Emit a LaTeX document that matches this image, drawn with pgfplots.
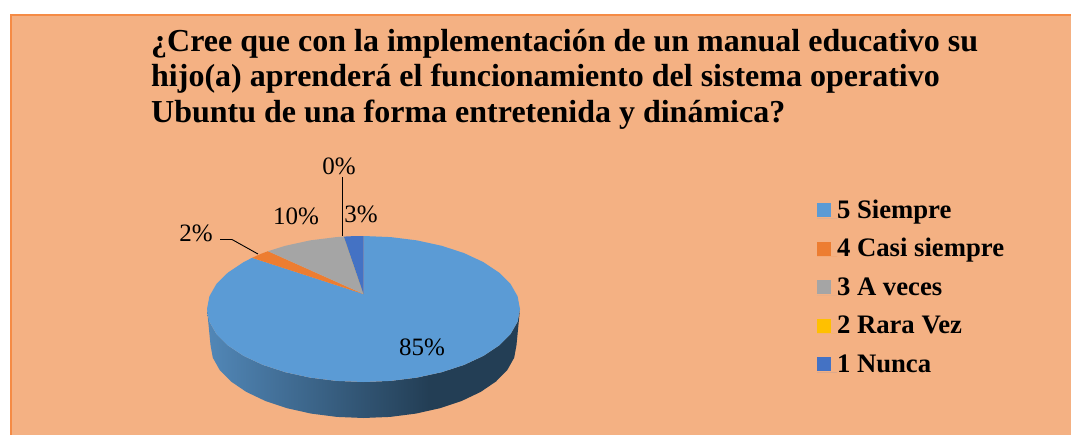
\documentclass[border=0pt]{standalone}
\usepackage{pgfplots}
\pgfplotsset{compat=1.18}
\usepackage{fontspec}
\setmainfont{Liberation Serif}
\pgfdeclarehorizontalshading{pieside}{100bp}{
  rgb(0bp)=(0.32,0.53,0.72);
  rgb(25bp)=(0.32,0.53,0.72);
  rgb(60.5bp)=(0.137,0.243,0.333);
  rgb(100bp)=(0.137,0.243,0.333)}
\definecolor{bgc}{HTML}{F4B183}
\definecolor{edge}{HTML}{F58B45}
\definecolor{c5}{HTML}{5B9BD5}
\definecolor{c4}{HTML}{ED7D31}
\definecolor{c3}{HTML}{A5A5A5}
\definecolor{c2}{HTML}{FFC000}
\definecolor{c1}{HTML}{4472C4}
\begin{document}
\begin{tikzpicture}
\useasboundingbox (0,0) rectangle (1071pt,434pt);
\begin{axis}[
  scale only axis, width=1071pt, height=434pt,
  xmin=0, xmax=1071, ymin=0, ymax=434, y dir=reverse,
  hide axis, clip=true,
  legend cell align=left,
  legend image code/.code={\fill[#1,draw=none] (0pt,1pt) rectangle (14pt,15pt);\path (0pt,0pt) -- (20pt,0pt);},
  legend style={draw=none, fill=none, at={(axis cs:817,201)}, anchor=north west,
    font=\fontsize{26.7}{28}\selectfont\bfseries, row sep=15.6pt,
    inner sep=0pt, outer sep=0pt,
    nodes={inner sep=0pt, outer sep=0pt, anchor=base west, text height=17pt, text depth=6pt}},
]
% background panel
\addplot[fill=bgc, draw=edge, line width=2pt, forget plot] coordinates
  {(11,440) (11,15) (1078,15) (1078,440) (11,440)};
% pie side
\addplot[shading=pieside, draw=none, forget plot] coordinates {
 (207,309) (209.4,321.7) (216.4,334.0) (228.0,345.5) (243.6,355.9) (262.9,364.9)
 (285.25,372.2) (310.0,377.6) (336.3,380.9) (363.5,382) (390.7,380.9) (417.0,377.6)
 (441.75,372.2) (464.1,364.9) (483.4,355.9) (499.0,345.5) (510.6,334.0) (517.6,321.7) (520,309)
 (516.5,345) (514.2,357.7) (507.3,370) (496,381.5) (480.7,391.9) (461.8,400.9) (440,408.2)
 (415.8,413.6) (390.1,416.9) (363.5,418) (336.9,416.9) (311.2,413.6) (287,408.2) (265.2,400.9)
 (246.3,391.9) (231,381.5) (219.7,370) (212.8,357.7) (210.5,345) (207,309)};
% 5 Siempre 85%
\addplot[fill=c5, draw=none] coordinates {
 (363.5,294) (363.5,236) (390.7,237.1) (417.0,240.4) (441.75,245.8) (464.1,253.1) (483.4,262.1)
 (499.0,272.5) (510.6,284.0) (517.6,296.3) (520,309) (517.6,321.7) (510.6,334.0) (499.0,345.5)
 (483.4,355.9) (464.1,364.9) (441.75,372.2) (417.0,377.6) (390.7,380.9) (363.5,382) (336.3,380.9)
 (310.0,377.6) (285.25,372.2) (262.9,364.9) (243.6,355.9) (228.0,345.5) (216.4,334.0) (209.4,321.7)
 (207,309) (209.4,296.3) (216.4,284.0) (228.0,272.5) (243.6,262.1) (252.1,257.8) (363.5,294)};
\addlegendentry{5 Siempre}
% 4 Casi siempre 2%
\addplot[fill=c4, draw=none] coordinates {
 (363.5,294) (252.1,257.8) (260.8,253.9) (268.0,251.2) (363.5,294)};
\addlegendentry{4 Casi siempre}
% 3 A veces 10%
\addplot[fill=c3, draw=none] coordinates {
 (363.5,294) (268.0,251.2) (285.25,245.8) (310.0,240.4) (336.3,237.1) (343.9,236.6) (363.5,294)};
\addlegendentry{3 A veces}
% 2 Rara Vez 0%
\addplot[fill=c2, draw=none] coordinates {(363.5,294) (343.9,236.6) (363.5,294)};
\addlegendentry{2 Rara Vez}
% 1 Nunca 3%
\addplot[fill=c1, draw=none] coordinates {
 (363.5,294) (343.9,236.6) (353.7,236.1) (363.5,236) (363.5,294)};
\addlegendentry{1 Nunca}
% leader lines
\addplot[black, line width=0.9pt, forget plot] coordinates {(342,177) (342,236)};
\addplot[black, line width=0.9pt, forget plot] coordinates {(220,239.5) (232,239.5) (258,254)};
% labels
\node[font=\fontsize{25}{28}\selectfont] at (axis cs:339,166) {0\%};
\node[font=\fontsize{25}{28}\selectfont] at (axis cs:361,214) {3\%};
\node[font=\fontsize{25}{28}\selectfont] at (axis cs:296,216) {10\%};
\node[font=\fontsize{25}{28}\selectfont] at (axis cs:196,233) {2\%};
\node[font=\fontsize{25}{28}\selectfont] at (axis cs:422,347) {85\%};
% title
\node[anchor=north west, align=left, inner sep=0pt,
  font=\fontsize{32}{35.5}\selectfont\bfseries] at (axis cs:151,29)
  {¿Cree que con la implementación de un manual educativo su\\
   hijo(a) aprenderá el funcionamiento del sistema operativo\\
   Ubuntu de una forma entretenida y dinámica?};
\end{axis}
\end{tikzpicture}
\end{document}
